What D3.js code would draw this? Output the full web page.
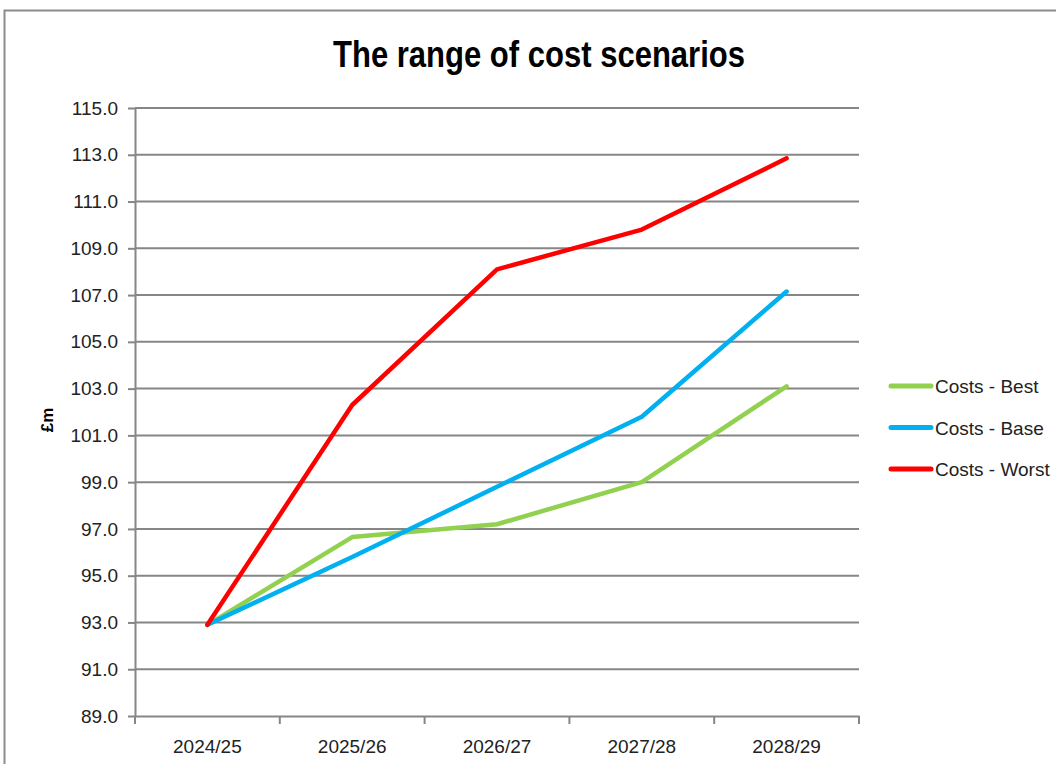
<!DOCTYPE html>
<html>
<head>
<meta charset="utf-8">
<script src="https://cdn.jsdelivr.net/npm/d3@7"></script>
<style>
  body { margin: 0; background: #fff; }
  svg { display: block; }
</style>
</head>
<body>
<svg id="chart"></svg>
<script>
let years = ["2024/25", "2025/26", "2026/27", "2027/28", "2028/29"]
let best = [92.9, 96.65, 97.2, 99.0, 103.1]
let base = [92.9, 95.8, 98.8, 101.8, 107.15]
let worst = [92.9, 102.3, 108.1, 109.8, 112.85]
let seriesNames = ["Costs - Best", "Costs - Base", "Costs - Worst"]
let seriesColors = ["#92D050", "#00B0F0", "#FF0000"]
let yTicks = [89, 91, 93, 95, 97, 99, 101, 103, 105, 107, 109, 111, 113, 115]

let w = 1056
let h = 764
let plotL = 135, plotR = 859, plotT = 108, plotB = 716
let font = "'Liberation Sans', Arial, sans-serif"

let svg = d3.select("#chart").attr("width", w).attr("height", h)

// chart frame
svg.append("rect")
   .attr("x", 4.5).attr("y", 10.5)
   .attr("width", w + 20).attr("height", h + 20)
   .attr("fill", "none")
   .attr("stroke", "#8c8c8c")
   .attr("stroke-width", 2)

svg.append("text")
   .attr("x", 539).attr("y", 67)
   .attr("text-anchor", "middle")
   .attr("textLength", 412)
   .attr("lengthAdjust", "spacingAndGlyphs")
   .style("font-family", font)
   .style("font-weight", "bold")
   .style("font-size", "36px")
   .text("The range of cost scenarios")

let xScale = d3.scaleBand().domain(years).range([plotL, plotR])
let yScale = d3.scaleLinear().domain([89, 115]).range([plotB, plotT])

// gridlines
svg.append("g")
   .selectAll("line")
   .data(yTicks.slice(1))
   .enter()
   .append("line")
   .attr("x1", plotL).attr("x2", plotR)
   .attr("y1", d => yScale(d)).attr("y2", d => yScale(d))
   .attr("stroke", "#868686")
   .attr("stroke-width", 2)

let yAxis = d3.axisLeft(yScale)
              .tickValues(yTicks)
              .tickFormat(d => d.toFixed(1))
              .tickSize(7)
              .tickSizeOuter(0)
let xAxis = d3.axisBottom(xScale)
              .tickValues([])
              .tickSizeOuter(0)

let gy = svg.append("g")
   .attr("transform", "translate(" + plotL + ",0)")
   .call(yAxis)
let gx = svg.append("g")
   .attr("transform", "translate(0," + plotB + ")")
   .call(xAxis)

gy.select(".domain").attr("stroke", "#868686").attr("stroke-width", 2)
gy.selectAll(".tick line").attr("stroke", "#868686").attr("stroke-width", 2)
gy.selectAll(".tick text")
  .attr("x", -17)
  .style("font-family", font)
  .style("font-size", "19px")
  .attr("fill", "#222")
gx.select(".domain").attr("stroke", "#868686").attr("stroke-width", 2)

// x ticks at band edges
let edges = years.map(d => xScale(d)).concat([plotR])
gx.selectAll(".edge")
  .data(edges)
  .enter()
  .append("line")
  .attr("x1", d => d).attr("x2", d => d)
  .attr("y1", 0).attr("y2", 8)
  .attr("stroke", "#868686")
  .attr("stroke-width", 2)

gx.selectAll(".lbl")
  .data(years)
  .enter()
  .append("text")
  .attr("x", d => xScale(d) + xScale.bandwidth() / 2)
  .attr("y", 37)
  .attr("text-anchor", "middle")
  .style("font-family", font)
  .style("font-size", "19px")
  .attr("fill", "#222")
  .text(d => d)

svg.append("text")
   .attr("transform", "translate(53,420) rotate(-90)")
   .attr("text-anchor", "middle")
   .style("font-family", font)
   .style("font-weight", "bold")
   .style("font-size", "17px")
   .text("£m")

let series = [best, base, worst]
let line = d3.line()
             .x((d, i) => xScale(years[i]) + xScale.bandwidth() / 2)
             .y(d => yScale(d))

svg.append("g")
   .selectAll("path")
   .data(series)
   .enter()
   .append("path")
   .attr("d", d => line(d))
   .attr("fill", "none")
   .attr("stroke", (d, i) => seriesColors[i])
   .attr("stroke-width", 4.5)
   .attr("stroke-linejoin", "round")
   .attr("stroke-linecap", "round")

// legend
let legend = svg.append("g")
let legY = d3.scalePoint().domain(seriesNames).range([386, 469])
legend.selectAll("line")
      .data(seriesNames)
      .enter()
      .append("line")
      .attr("x1", 891).attr("x2", 931)
      .attr("y1", d => legY(d)).attr("y2", d => legY(d))
      .attr("stroke", (d, i) => seriesColors[i])
      .attr("stroke-width", 5)
      .attr("stroke-linecap", "round")
legend.selectAll("text")
      .data(seriesNames)
      .enter()
      .append("text")
      .attr("x", 935)
      .attr("y", d => legY(d) + 7)
      .style("font-family", font)
      .style("font-size", "19px")
      .attr("fill", "#222")
      .text(d => d)
</script>
</body>
</html>
